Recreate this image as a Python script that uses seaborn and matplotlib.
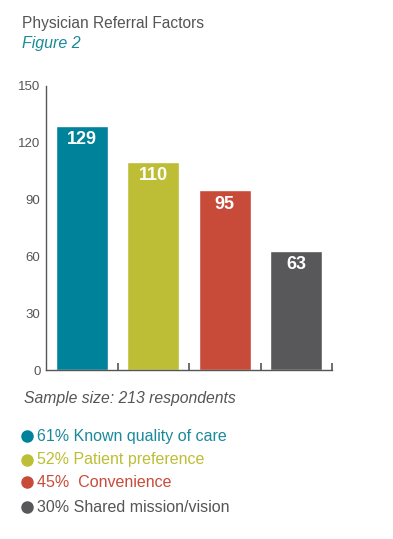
import matplotlib
matplotlib.use("Agg")
import matplotlib.pyplot as plt
from matplotlib.lines import Line2D
import seaborn as sns
import pandas as pd

# Chart data
factors = ["Known quality of care", "Patient preference", "Convenience", "Shared mission/vision"]
counts = [129, 110, 95, 63]
shares = ["61%", "52%", "45% ", "30%"]
colors = ["#00829B", "#BDBE35", "#C84B3A", "#58585B"]
y_ticks = [0, 30, 60, 90, 120, 150]

sns.set_style("white")
plt.rcParams["font.family"] = ["Liberation Sans", "DejaVu Sans"]

df = pd.DataFrame({"factor": factors, "count": counts})

fig = plt.figure(figsize=(3.93, 5.39), dpi=100)
ax = fig.add_axes([0.117, 0.3135, 0.728, 0.527])

sns.barplot(data=df, x="factor", y="count", hue="factor", palette=colors,
            width=0.73, legend=False, ax=ax, saturation=1)

ax.set_ylim(0, 150)
ax.set_xlim(-0.5, 3.5)
ax.set_yticks(y_ticks)
ax.set_xlabel("")
ax.set_ylabel("")
ax.set_xticks([])
ax.set_xticks([0.5, 1.5, 2.5, 3.5], minor=True)
ax.tick_params(axis="x", which="minor", direction="in", length=5, width=1.2,
               color="#555555", bottom=True)
ax.tick_params(axis="y", direction="in", length=5, width=1, color="#555555",
               labelsize=9.5, labelcolor="#555555", pad=4)
for side in ["top", "right"]:
    ax.spines[side].set_visible(False)
for side in ["left", "bottom"]:
    ax.spines[side].set_color("#555555")
    ax.spines[side].set_linewidth(1)

# Value labels inside bars
for i, v in enumerate(counts):
    ax.text(i, v - 7.5, str(v), ha="center", va="center", color="white",
            fontsize=13, fontweight="bold")

# Titles
fig.text(0.056, 0.957, "Physician Referral Factors", fontsize=11.2, color="#555555",
         ha="left", va="center")
fig.text(0.056, 0.92, "Figure 2", fontsize=11.5, color="#1A8A9A", style="italic",
         ha="left", va="center")

fig.text(0.062, 0.261, "Sample size: 213 respondents", fontsize=11.3, color="#555555",
         style="italic", ha="left", va="center")

# Legend rows
legend_y = [0.191, 0.147, 0.105, 0.059]
text_colors = ["#1A8A9A", "#BDBE35", "#C84B3A", "#555555"]
for y, share, name, c, tc in zip(legend_y, shares, factors, colors, text_colors):
    fig.add_artist(Line2D([0.069], [y], marker="o", markersize=8, color=c,
                          transform=fig.transFigure))
    fig.text(0.093, y, f"{share} {name}", fontsize=11.5, color=tc, ha="left", va="center")

fig.savefig("out.png", dpi=100)
